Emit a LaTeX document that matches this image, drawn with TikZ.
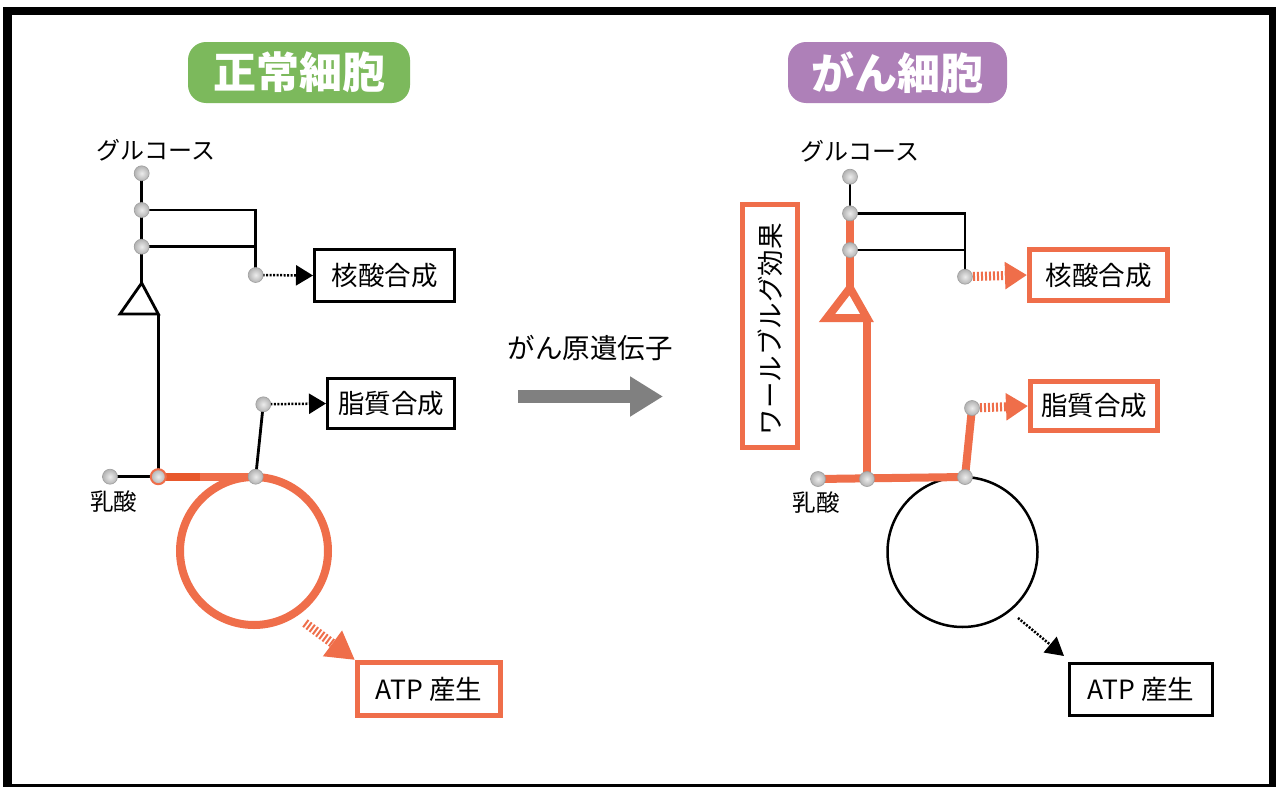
\documentclass[tikz,border=0pt]{standalone}
\usepackage{fontspec}
\newfontfamily\jp{Noto Sans CJK JP}
\usetikzlibrary{arrows.meta}
\definecolor{ocol}{HTML}{EF6E4A}
\definecolor{odark}{HTML}{E8582C}
\definecolor{gcol}{HTML}{7CB95C}
\definecolor{pcol}{HTML}{AE80B8}
\definecolor{acol}{HTML}{808080}
\tikzset{
  dot/.style={circle, inner sep=0pt, minimum size=15pt, shading=radial, inner color=gray!15, outer color=gray!60, draw=gray!75, line width=0.6pt},
  bline/.style={line width=2.8pt, draw=black},
  oline/.style={line width=8pt, draw=ocol},
  boxtext/.style={font=\jp\fontsize{26.5}{30}\selectfont, inner sep=0pt, align=center},
  bbox/.style={boxtext, draw=black, line width=3pt},
  obox/.style={boxtext, draw=ocol, line width=5pt},
  lbl/.style={inner sep=0pt, font=\jp\fontsize{24}{28}\selectfont},
  pill/.style={rounded corners=18pt, inner sep=0pt, text=white, font=\jp\bfseries\fontsize{43}{48}\selectfont},
  barrow/.style={line width=2.5pt, dash pattern=on 2pt off 1.5pt, -{Triangle[length=17pt,width=20pt]}},
  oarrow/.style={line width=9pt, draw=ocol, dash pattern=on 2pt off 2pt, -{Triangle[length=22pt,width=26pt]}},
}
\begin{document}
\begin{tikzpicture}[x=1pt,y=-1pt]
\useasboundingbox (0,0) rectangle (1278,787);
% frame
\fill[white] (0,0) rectangle (1278,787);
\fill[black] (3,7) rectangle (1276,787);
\fill[white] (12,15) rectangle (1269,784);

% titles
\node[pill, fill=gcol, minimum width=222pt, minimum height=61pt] (tL) at (299,72.5) {正常細胞};
\node[pill, fill=pcol, minimum width=219pt, minimum height=61pt] (tR) at (897.5,72.5) {がん細胞};

% ===== left: normal cell =====
\node[lbl] (gluL) at (156,150) {グルコース};
\node[lbl, font=\jp\fontsize{23.5}{28}\selectfont] (lacLt) at (113.5,502) {乳酸};
\node[bbox, minimum width=140pt, minimum height=52pt] (nucL) at (384.5,275.5) {核酸合成};
\node[bbox, minimum width=127pt, minimum height=50pt] (lipL) at (391,403.5) {脂質合成};
\node[obox, minimum width=143pt, minimum height=53pt] (atpL) at (429,689) {ATP 産生};

\coordinate (L1) at (141.7,173.3);
\coordinate (L2) at (141.7,210);
\coordinate (L3) at (141.7,246.7);
\coordinate (L4) at (255.7,275);
\coordinate (Lc2) at (255.7,210);
\coordinate (Lc3) at (255.7,246.7);
\coordinate (Lap) at (141.7,283);
\coordinate (Lbl) at (120,314);
\coordinate (Lbr) at (158.3,314);
\coordinate (Llac) at (110,476.7);
\coordinate (Ljun) at (158.3,476.7);
\coordinate (Lmid) at (200,476.7);
\coordinate (Ltop) at (255.7,476.7);
\coordinate (Llip) at (263.3,404.3);
\coordinate (Lcc) at (254,551);
\coordinate (La1) at (305,623);

\draw[bline] (L1) -- (Lap);
\draw[bline] (L2) -- (Lc2) -- (L4);
\draw[bline] (L3) -- (Lc3);
\draw[bline, line join=miter] (Lap) -- (Lbl) -- (Lbr) -- cycle;
\draw[bline] (Lbr) -- (Ljun);
\draw[bline] (Llac) -- (Ljun);
\draw[bline] (Ltop) -- (Llip);
\draw[oline] (Lcc) circle[radius=74];
\draw[oline, draw=odark] (Ljun) -- (Lmid);
\draw[oline] (Lmid) -- (Ltop);
\draw[barrow] (L4) -- (nucL.west);
\draw[barrow] (Llip) -- (lipL.west);
\draw[oarrow, -{Triangle[length=28pt,width=30pt]}] (La1) -- (atpL.north west);

\node[dot] (dL1) at (L1) {};
\node[dot] (dL2) at (L2) {};
\node[dot] (dL3) at (L3) {};
\node[dot] (dL4) at (L4) {};
\node[dot] (dLlac) at (Llac) {};
\node[dot, draw=ocol, line width=2pt] (dLjun) at (Ljun) {};
\node[dot] (dLtop) at (Ltop) {};
\node[dot] (dLlip) at (Llip) {};

% ===== middle =====
\node[boxtext, font=\jp\fontsize{27.5}{30}\selectfont] (onco) at (590,348) {がん原遺伝子};
\coordinate (M1) at (518,396.5);
\coordinate (M2) at (663,396.5);
\draw[line width=13pt, draw=acol, -{Triangle[length=33pt,width=38pt]}, fill=acol] (M1) -- (M2);

% ===== right: cancer cell =====
\node[lbl] (gluR) at (860,151) {グルコース};
\node[lbl, font=\jp\fontsize{23.5}{28}\selectfont] (lacRt) at (816,503) {乳酸};
\node[obox, minimum width=138pt, minimum height=51pt] (nucR) at (1098.5,275) {核酸合成};
\node[obox, minimum width=127pt, minimum height=49pt] (lipR) at (1094,406) {脂質合成};
\node[bbox, minimum width=143pt, minimum height=52pt] (atpR) at (1141,689.5) {ATP 産生};
\node[obox, minimum width=55pt, minimum height=243pt] (warb) at (770,326) {};
\node[boxtext, rotate=90] (warbt) at (770,329) {ワールブルグ効果};

\coordinate (R1) at (850,176.7);
\coordinate (R2) at (850,213.3);
\coordinate (R3) at (850,250);
\coordinate (R4) at (965,276.7);
\coordinate (Rc2) at (965,213.3);
\coordinate (Rc3) at (965,250);
\coordinate (Rap) at (850,288);
\coordinate (Rbl) at (827,318);
\coordinate (Rbr) at (867,318);
\coordinate (Rlac) at (818,479);
\coordinate (Rjun) at (867,479);
\coordinate (Rtop) at (965,477);
\coordinate (Rlip) at (972,408);
\coordinate (Rcc) at (962.5,552);
\coordinate (Ra1) at (1018,618);

\draw[line width=2.5pt] (Rcc) circle[radius=75];
\draw[bline] (R1) -- (R2);
\draw[bline] (R2) -- (Rc2) -- (R4);
\draw[bline] (R3) -- (Rc3);
\draw[oline] (R2) -- (Rap);
\draw[oline, line join=miter] (Rap) -- (Rbl) -- (Rbr) -- cycle;
\draw[oline] (Rbr) -- (Rjun);
\draw[oline] (Rlac) -- (Rtop);
\draw[oline] (Rtop) -- (Rlip);
\draw[oarrow] (R4) -- (nucR.west);
\draw[oarrow] (Rlip) -- (lipR.west);
\draw[barrow, -{Triangle[length=18pt,width=20pt]}] (Ra1) -- ([shift={(-4,-6)}]atpR.north west);

\node[dot] (dR1) at (R1) {};
\node[dot] (dR2) at (R2) {};
\node[dot] (dR3) at (R3) {};
\node[dot] (dR4) at (R4) {};
\node[dot] (dRlac) at (Rlac) {};
\node[dot] (dRjun) at (Rjun) {};
\node[dot] (dRtop) at (Rtop) {};
\node[dot] (dRlip) at (Rlip) {};
\end{tikzpicture}
\end{document}
